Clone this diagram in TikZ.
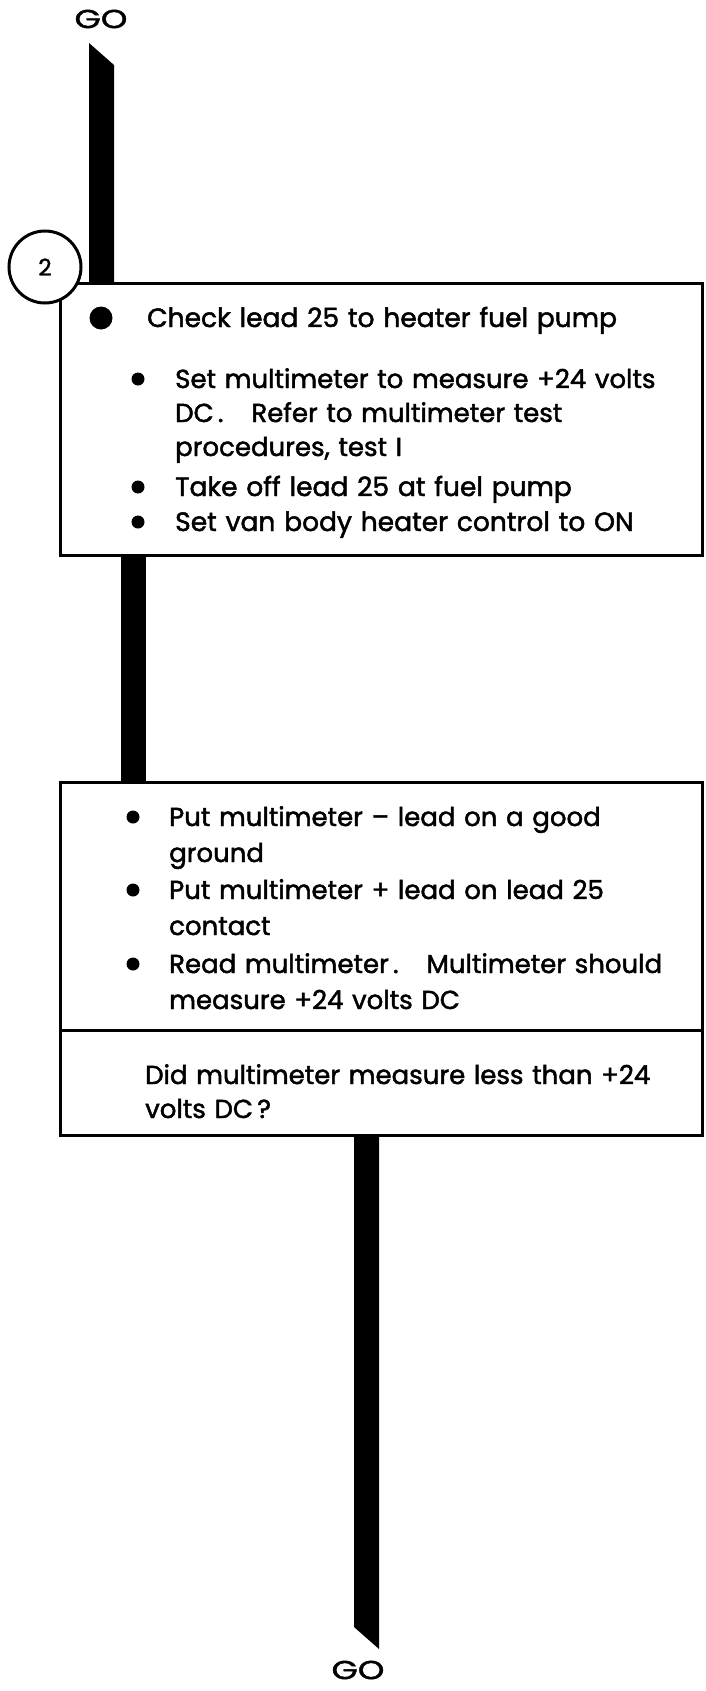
\documentclass[tikz,border=0pt]{standalone}
\usepackage{fontspec}
\setmainfont{Poppins}[FakeBold=1.8]
\newfontfamily\gofont{Poppins}[FakeStretch=1.3,FakeBold=1.6]
\usetikzlibrary{positioning,calc}
\tikzset{
  stepbox/.style={
    draw,line width=3pt,fill=white,outer sep=0pt,inner sep=0pt,
    minimum width=642pt
  },
  flowbar/.style={fill=black},
  gotext/.style={inner sep=0pt,font=\gofont\fontsize{26}{26}\selectfont},
  stepnum/.style={
    circle,draw,line width=3pt,fill=white,minimum size=72pt,inner sep=0pt,
    font=\fontsize{23}{23}\selectfont
  },
  bigdot/.style={circle,fill=black,minimum size=23pt,inner sep=0pt},
  smalldot/.style={circle,fill=black,minimum size=13pt,inner sep=0pt},
  itemtext/.style={
    anchor=base west,inner sep=0pt,text width=540pt,align=left,
    font=\fontsize{26}{34}\selectfont
  },
  wideitem/.style={itemtext,font=\fontsize{26}{36}\selectfont}
}
\newcommand{\gap}{\hspace{28pt}}

\begin{document}
\begin{tikzpicture}[x=1pt,y=-1pt]
  \useasboundingbox (0,0) rectangle (706,1691);
  % GO labels and step boxes
  \node[gotext] (gotop) at (101,19) {GO};
  \node[stepbox,minimum height=272pt,anchor=north west] (check) at (60,283) {};
  \node[stepbox,minimum height=248pt,below=227pt of check] (measure) {};
  \node[stepbox,minimum height=105pt,below=0pt of measure] (ask) {};
  \node[gotext] (gobot) at (358,1670) {GO};

  % flow bars
  \coordinate (tiptop) at (89,43);
  \coordinate (tipbot) at (379,1649);
  \fill[flowbar] (tiptop) -- ++(25,22) -- (114,0 |- check.north)
    -- (89,0 |- check.north) -- cycle;
  \fill[flowbar] (121,0 |- check.south) rectangle (146,0 |- measure.north);
  \fill[flowbar] (354,0 |- ask.south) -- (354,1627) -- (tipbot)
    -- (379,0 |- ask.south) -- cycle;

  % step 2 text
  \node[bigdot] (dot0) at (101,318) {};
  \node[itemtext,font=\fontsize{26.5}{34}\selectfont] (lead) at (147,327)
    {Check lead 25 to heater fuel pump};
  \node[smalldot] (dot1) at (138,379) {};
  \node[itemtext] (setmeter) at (175,388) {Set multimeter to measure +24 volts\\
    DC\,.\gap Refer to multimeter test\\procedures, test I};
  \node[smalldot] (dot2) at (138,487) {};
  \node[itemtext,font=\fontsize{26.5}{34}\selectfont] (takeoff) at (175,496)
    {Take off lead 25 at fuel pump};
  \node[smalldot] (dot3) at (138,522) {};
  \node[itemtext,font=\fontsize{26.5}{34}\selectfont] (heater) at (175,531)
    {Set van body heater control to ON};

  \node[smalldot] (dot4) at (133,817) {};
  \node[wideitem] (ground) at (169,826) {Put multimeter – lead on a good\\ground};
  \node[smalldot] (dot5) at (133,890) {};
  \node[wideitem] (contact) at (169,899) {Put multimeter + lead on lead 25\\contact};
  \node[smalldot] (dot6) at (133,964) {};
  \node[wideitem] (read) at (169,973) {Read multimeter\,.\gap Multimeter should\\
    measure +24 volts DC};
  \node[itemtext] (question) at (145,1084) {Did multimeter measure less than +24\\
    volts DC\,?};

  \node[stepnum] (two) at (45,267) {2};
\end{tikzpicture}
\end{document}
